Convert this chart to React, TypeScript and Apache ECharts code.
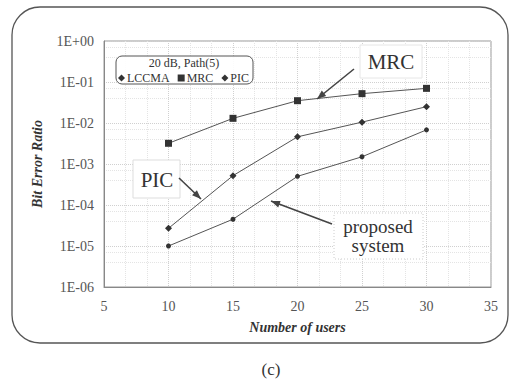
import React, { useEffect, useRef } from "react";
import * as echarts from "echarts";

const users = [10, 15, 20, 25, 30];
const lccma = [1.0e-5, 4.5e-5, 5.0e-4, 1.5e-3, 6.8e-3];
const mrc = [3.2e-3, 1.3e-2, 3.5e-2, 5.2e-2, 7.0e-2];
const pic = [2.7e-5, 5.2e-4, 4.6e-3, 1.05e-2, 2.5e-2];
const seriesNames = ["LCCMA", "MRC", "PIC"];
const legendTitle = "20 dB, Path(5)";
const xTicks = [5, 10, 15, 20, 25, 30, 35];

const SERIF = "Liberation Serif";

function fmtExp(v: number): string {
  const e = Math.round(Math.log10(v));
  const s = e >= 0 ? "+" : "-";
  const a = Math.abs(e);
  return "1E" + s + (a < 10 ? "0" + a : String(a));
}

function arrowHead(x1: number, y1: number, x2: number, y2: number, len = 9, w = 3.5) {
  const dx = x2 - x1, dy = y2 - y1;
  const L = Math.sqrt(dx * dx + dy * dy);
  const ux = dx / L, uy = dy / L;
  const bx = x2 - ux * len, by = y2 - uy * len;
  return [
    [x2, y2],
    [bx - uy * w, by + ux * w],
    [bx + uy * w, by - ux * w],
  ];
}

function arrow(x1: number, y1: number, x2: number, y2: number) {
  return [
    { type: "line", shape: { x1, y1, x2, y2 }, style: { stroke: "#444", lineWidth: 1.6 }, z: 10 },
    { type: "polygon", shape: { points: arrowHead(x1, y1, x2, y2) }, style: { fill: "#444" }, z: 10 },
  ];
}

export default function App() {
  const ref = useRef<HTMLDivElement>(null);
  useEffect(() => {
    if (!ref.current) return;
    const chart = echarts.init(ref.current, undefined, { renderer: "svg" });
    const mk = (arr: number[]) => users.map((u, i) => [u, arr[i]]);
    const lineStyle = { color: "#555", width: 1 };
    chart.setOption({
      animation: false,
      backgroundColor: "#fff",
      grid: { left: 104, right: 20, top: 41, bottom: 94, show: true, borderColor: "#999", borderWidth: 1 },
      xAxis: {
        type: "value",
        min: 5,
        max: 35,
        interval: 5,
        name: "Number of users",
        nameLocation: "middle",
        nameGap: 33,
        nameTextStyle: { fontFamily: SERIF, fontSize: 14, fontWeight: "bold", fontStyle: "italic", color: "#333" },
        axisLine: { show: true, lineStyle: { color: "#888", width: 1 } },
        axisTick: { show: false },
        axisLabel: {
          fontFamily: SERIF,
          fontSize: 14,
          color: "#555",
          margin: 12,
          formatter: (v: number) => (xTicks.indexOf(v) >= 0 ? String(v) : ""),
        },
        splitLine: { show: true, lineStyle: { color: "#d0d0d0", type: "dotted", width: 1 } },
        minorTick: { show: false, splitNumber: 3 },
        minorSplitLine: { show: true, lineStyle: { color: "#e4e4e4", type: "dotted", width: 1 } },
      },
      yAxis: {
        type: "log",
        logBase: 10,
        min: 1e-6,
        max: 1,
        name: "Bit Error Ratio",
        nameLocation: "middle",
        nameGap: 60,
        nameTextStyle: { fontFamily: SERIF, fontSize: 14, fontWeight: "bold", fontStyle: "italic", color: "#333" },
        axisLine: { show: true, lineStyle: { color: "#888", width: 1 } },
        axisTick: { show: false },
        axisLabel: { fontFamily: SERIF, fontSize: 14, color: "#555", margin: 10, formatter: (v: number) => fmtExp(v) },
        splitLine: { show: true, lineStyle: { color: "#d0d0d0", type: "dotted", width: 1 } },
        minorTick: { show: false, splitNumber: 3 },
        minorSplitLine: { show: true, lineStyle: { color: "#e4e4e4", type: "dotted", width: 1 } },
      },
      legend: {
        data: [
          { name: seriesNames[0], icon: "diamond" },
          { name: seriesNames[1], icon: "rect" },
          { name: seriesNames[2], icon: "diamond" },
        ],
        left: 118,
        top: 72,
        itemWidth: 7,
        itemHeight: 7,
        itemGap: 8,
        padding: 0,
        textStyle: { fontFamily: SERIF, fontSize: 12, color: "#333", padding: [0, 0, 0, -3] },
      },
      series: [
        {
          name: seriesNames[0],
          type: "line",
          data: mk(lccma),
          symbol: "circle",
          symbolSize: 5,
          itemStyle: { color: "#333" },
          lineStyle,
        },
        {
          name: seriesNames[1],
          type: "line",
          data: mk(mrc),
          symbol: "rect",
          symbolSize: 7,
          itemStyle: { color: "#333" },
          lineStyle,
        },
        {
          name: seriesNames[2],
          type: "line",
          data: mk(pic),
          symbol: "diamond",
          symbolSize: 7,
          itemStyle: { color: "#333" },
          lineStyle,
        },
      ],
      graphic: [
        {
          type: "rect",
          shape: { x: 12, y: 7, width: 496, height: 336, r: 28 },
          style: { fill: "none", stroke: "#555", lineWidth: 1.3 },
          z: -1,
          silent: true,
        },
        {
          type: "rect",
          shape: { x: 116, y: 56, width: 137, height: 28, r: 6 },
          style: { fill: "rgba(255,255,255,0.9)", stroke: "#555", lineWidth: 1 },
          z: 1,
        },
        {
          type: "text",
          x: 184,
          y: 63,
          style: { text: legendTitle, fontFamily: SERIF, fontSize: 12, fill: "#333", align: "center", verticalAlign: "middle" },
          z: 11,
        },
        {
          type: "rect",
          shape: { x: 360, y: 45, width: 62, height: 33 },
          style: { fill: "#fff", stroke: "#e6e6e6", lineWidth: 1 },
          z: 9,
        },
        {
          type: "text",
          x: 391,
          y: 62,
          style: { text: "MRC", fontFamily: SERIF, fontSize: 21, fill: "#333", align: "center", verticalAlign: "middle" },
          z: 10,
        },
        ...arrow(354, 69, 317, 99),
        {
          type: "rect",
          shape: { x: 133, y: 160, width: 47, height: 38 },
          style: { fill: "#fff", stroke: "#ddd", lineWidth: 1 },
          z: 9,
        },
        {
          type: "text",
          x: 157,
          y: 180,
          style: { text: "PIC", fontFamily: SERIF, fontSize: 21, fill: "#333", align: "center", verticalAlign: "middle" },
          z: 10,
        },
        ...arrow(179, 178, 201, 199),
        {
          type: "rect",
          shape: { x: 334, y: 213, width: 89, height: 46 },
          style: { fill: "#fff", stroke: "#ccc", lineWidth: 1, lineDash: [1, 2] },
          z: 9,
        },
        {
          type: "text",
          x: 378,
          y: 236,
          style: {
            text: "proposed\nsystem",
            fontFamily: SERIF,
            fontSize: 19,
            lineHeight: 19,
            fill: "#333",
            align: "center",
            verticalAlign: "middle",
          },
          z: 10,
        },
        ...arrow(332, 224, 271, 201),
        {
          type: "text",
          x: 271,
          y: 369,
          style: { text: "(c)", fontFamily: SERIF, fontSize: 17, fill: "#333", align: "center", verticalAlign: "middle" },
        },
      ],
    });
    return () => chart.dispose();
  }, []);
  return <div ref={ref} style={{ width: 511, height: 381, position: "absolute", left: 0, top: 0 }} />;
}
